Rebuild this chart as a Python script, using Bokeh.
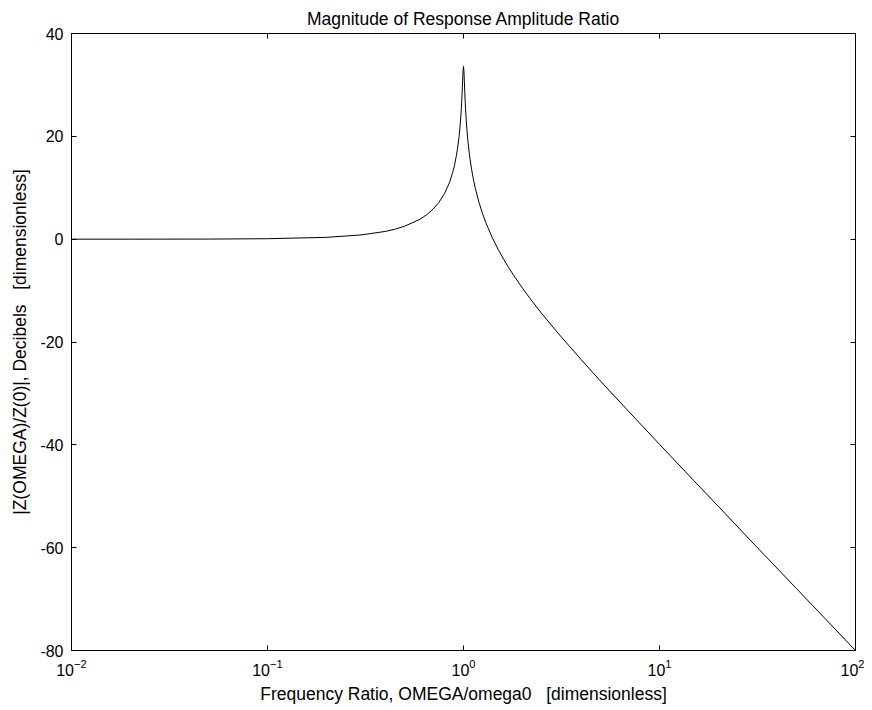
from bokeh.plotting import figure
from bokeh.models import LogAxis, LinearAxis, FixedTicker, Title
from bokeh.embed import file_html
from bokeh.resources import INLINE

# frequency ratio OMEGA/omega0
freq_ratio = [0.01, 0.02, 0.05, 0.1, 0.2, 0.3, 0.4, 0.45, 0.5, 0.6, 0.65, 0.7, 0.75, 0.8,
              0.85, 0.88, 0.9, 0.92, 0.93, 0.95, 0.96, 0.97, 0.975, 0.98, 0.985, 0.99,
              0.995, 1.0, 1.005, 1.01, 1.015, 1.02, 1.025, 1.03, 1.04, 1.05, 1.07, 1.08,
              1.1, 1.12, 1.15, 1.2, 1.25, 1.3, 1.4, 1.5, 1.6, 1.7, 1.8, 2.0, 2.2, 2.5,
              3.0, 4.0, 5.0, 7.0, 10.0, 15.0, 20.0, 30.0, 50.0, 70.0, 100.0]
# magnitude in dB
magnitude_db = [0.0, 0.0, 0.02, 0.09, 0.35, 0.82, 1.51, 1.97, 2.5, 3.88, 4.77, 5.85, 7.18, 8.87,
                11.1, 12.93, 14.4, 16.27, 17.4, 20.0, 21.84, 24.1, 25.45, 27.0, 28.84, 30.9,
                32.8, 33.6, 32.7, 30.7, 28.67, 26.8, 25.2, 23.8, 21.47, 19.6, 16.8, 15.58,
                13.55, 11.89, 9.83, 7.13, 5.0, 3.22, 0.35, -1.94, -3.86, -5.53, -7.0, -9.54, -11.69, -14.4,
                -18.06, -23.5, -27.6, -33.6, -39.9, -47.0, -52.0, -59.1, -67.96, -73.8, -80.0]

x_ticks = [0.01, 0.1, 1, 10, 100]
y_ticks = [-80, -60, -40, -20, 0, 20, 40]
y_tick_labels = ["-80", "-60", "-40", "-20", "0", "20", "40"]

FONT = "Liberation Sans"

p = figure(width=864, height=706, x_axis_type="log",
           x_range=(0.01, 100), y_range=(-80, 40),
           output_backend="svg", toolbar_location=None,
           min_border_left=71, min_border_right=9, min_border_top=33, min_border_bottom=56)
p.title = Title(text="Magnitude of Response Amplitude Ratio", align="center",
                text_font=FONT, text_font_size="17.5px", text_font_style="normal",
                text_color="black", offset=0, standoff=9)

p.line(freq_ratio, magnitude_db, line_color="black", line_width=1)

p.xgrid.visible = False
p.ygrid.visible = False
p.outline_line_color = "black"
p.outline_line_width = 1
p.background_fill_color = "white"
p.border_fill_color = "white"

def style(ax, labels=True):
    ax.axis_line_color = "black"
    ax.major_tick_in = 5
    ax.major_tick_out = 0
    ax.minor_tick_in = 0
    ax.minor_tick_out = 0
    ax.major_tick_line_color = "black"
    ax.major_label_text_font = FONT
    ax.major_label_text_font_size = "16px"
    ax.major_label_text_color = "black"
    ax.axis_label_text_font = FONT
    ax.axis_label_text_font_size = "17.5px"
    ax.axis_label_text_font_style = "normal"
    ax.axis_label_text_color = "black"
    if not labels:
        ax.major_label_text_font_size = "1px"
        ax.major_label_text_alpha = 0
        ax.major_label_standoff = 0

xa = p.xaxis[0]
xa.ticker = FixedTicker(ticks=x_ticks)
xa.axis_label = "Frequency Ratio, OMEGA/omega0\u00a0\u00a0\u00a0[dimensionless]"
style(xa)
xa.major_label_standoff = 8
xa.axis_label_standoff = 5

ya = p.yaxis[0]
ya.ticker = FixedTicker(ticks=y_ticks)
ya.major_label_overrides = {t: s for t, s in zip(y_ticks, y_tick_labels)}
ya.axis_label = "|Z(OMEGA)/Z(0)|, Decibels\u00a0\u00a0\u00a0[dimensionless]"
style(ya)
ya.major_label_standoff = 8
ya.axis_label_standoff = 7

top = LogAxis(ticker=FixedTicker(ticks=x_ticks))
style(top, labels=False)
p.add_layout(top, "above")
right = LinearAxis(ticker=FixedTicker(ticks=y_ticks))
style(right, labels=False)
p.add_layout(right, "right")

open("out.html", "w").write(file_html(p, INLINE))
